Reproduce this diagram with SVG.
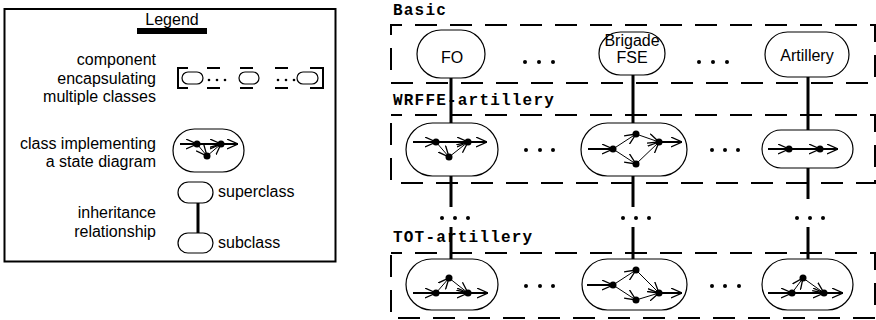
<svg xmlns="http://www.w3.org/2000/svg" width="876" height="320" viewBox="0 0 876 320">
<defs>
<style>
.t{font-family:"Liberation Sans",Arial,sans-serif;font-size:16px;fill:#000}
.m{font-family:"Liberation Mono","Courier New",monospace;font-weight:bold;font-size:16px;letter-spacing:1.2px;fill:#000}
.ov{fill:#fff;stroke:#000;stroke-width:1.2}
.db{fill:none;stroke:#000;stroke-width:2;stroke-dasharray:22 13;stroke-dashoffset:11}
.h{stroke:#000;stroke-width:2;fill:none;marker-end:url(#ah)}
.s{stroke:#000;stroke-width:1;fill:none;marker-end:url(#ah)}
.inh{stroke:#000;stroke-width:3;fill:none}
.d{fill:#000}
</style>
<marker id="ah" viewBox="0 0 10 10" refX="10" refY="5" markerWidth="11" markerHeight="11" markerUnits="userSpaceOnUse" orient="auto">
<path d="M0,0.5 L10,5 L0,9.5" fill="none" stroke="#000" stroke-width="1.2"/>
</marker>
</defs>
<rect width="876" height="320" fill="#fff"/>

<g id="legend">
<rect x="4.5" y="9" width="331" height="252.5" fill="none" stroke="#000" stroke-width="2"/>
<text class="t" x="172" y="25" text-anchor="middle">Legend</text>
<rect x="137" y="28" width="70" height="6" fill="#000"/>
<text class="t" x="156" y="65" text-anchor="end">component</text>
<text class="t" x="156" y="84" text-anchor="end">encapsulating</text>
<text class="t" x="156" y="102" text-anchor="end">multiple classes</text>
<g id="legend-component">
<path d="M188,68 H178 V88 H188 M310,68 H323 V88 H310 M207,68 H220 M240,68 H253 M275,68 H288 M207,88 H220 M240,88 H253 M275,88 H288" fill="none" stroke="#000" stroke-width="2"/>
<rect class="ov" x="182" y="72" width="21" height="12" rx="6"/>
<rect class="ov" x="239" y="72" width="20" height="12" rx="6"/>
<rect class="ov" x="297" y="72" width="21" height="12" rx="6"/>
<circle class="d" cx="209" cy="80" r="1.3"/><circle class="d" cx="217" cy="80" r="1.3"/><circle class="d" cx="225" cy="80" r="1.3"/>
<circle class="d" cx="278" cy="80" r="1.3"/><circle class="d" cx="286" cy="80" r="1.3"/><circle class="d" cx="294" cy="80" r="1.3"/>
</g>
<text class="t" x="156" y="149" text-anchor="end">class implementing</text>
<text class="t" x="156" y="167" text-anchor="end">a state diagram</text>
<g id="legend-class">
<rect class="ov" x="173" y="129" width="71" height="43" rx="21.5"/>
<line class="h" x1="180" y1="144" x2="197" y2="144"/>
<line class="h" x1="197" y1="144" x2="221" y2="144"/>
<line class="h" x1="221" y1="144" x2="238" y2="144"/>
<line class="s" x1="197" y1="144" x2="207" y2="156"/>
<line class="s" x1="207" y1="156" x2="221" y2="144"/>
<circle class="d" cx="197" cy="144" r="3.5"/><circle class="d" cx="221" cy="144" r="3.5"/><circle class="d" cx="207" cy="156" r="3.5"/>
</g>
<g id="legend-inheritance">
<rect class="ov" x="178" y="182" width="35" height="21" rx="10.5"/>
<rect class="ov" x="178" y="233" width="35" height="20" rx="10"/>
<line class="inh" x1="198" y1="203" x2="198" y2="233"/>
</g>
<text class="t" x="218" y="197">superclass</text>
<text class="t" x="218" y="248">subclass</text>
<text class="t" x="156" y="218" text-anchor="end">inheritance</text>
<text class="t" x="156" y="237" text-anchor="end">relationship</text>
</g>

<g id="connectors">
<line class="inh" x1="451" y1="78" x2="451" y2="123"/>
<line class="inh" x1="451" y1="176" x2="451" y2="207"/>
<line class="inh" x1="451" y1="227" x2="451" y2="259"/>
<line class="inh" x1="633" y1="75" x2="633" y2="123"/>
<line class="inh" x1="633" y1="176" x2="633" y2="207"/>
<line class="inh" x1="633" y1="227" x2="633" y2="259"/>
<line class="inh" x1="808" y1="77" x2="808" y2="130"/>
<line class="inh" x1="808" y1="168" x2="808" y2="199"/>
<line class="inh" x1="808" y1="227" x2="808" y2="259"/>
<g class="d">
<circle cx="442" cy="218" r="2"/><circle cx="455" cy="218" r="2"/><circle cx="468" cy="218" r="2"/>
<circle cx="623" cy="218" r="2"/><circle cx="636" cy="218" r="2"/><circle cx="649" cy="218" r="2"/>
<circle cx="797" cy="218" r="2"/><circle cx="810" cy="218" r="2"/><circle cx="823" cy="218" r="2"/>
</g>
</g>

<g id="basic">
<text class="m" x="393" y="15">Basic</text>
<rect class="db" x="391" y="25" width="484" height="58"/>
<g class="d">
<circle cx="525" cy="62" r="2"/><circle cx="539" cy="62" r="2"/><circle cx="553" cy="62" r="2"/>
<circle cx="699" cy="62" r="2"/><circle cx="713" cy="62" r="2"/><circle cx="727" cy="62" r="2"/>
</g>
</g>
<g id="basic-FO">
<rect class="ov" x="417" y="30" width="68" height="48" rx="24"/>
<text class="t" x="452" y="63" text-anchor="middle">FO</text>
</g>
<g id="basic-BrigadeFSE">
<rect class="ov" x="599" y="32" width="66" height="43" rx="21.5"/>
<text class="t" x="632" y="46" text-anchor="middle">Brigade</text>
<text class="t" x="632" y="63" text-anchor="middle">FSE</text>
</g>
<g id="basic-Artillery">
<rect class="ov" x="765" y="32" width="84" height="45" rx="22.5"/>
<text class="t" x="807" y="61" text-anchor="middle">Artillery</text>
</g>

<g id="wrffe">
<text class="m" x="393" y="105">WRFFE-artillery</text>
<rect class="db" x="391" y="115" width="484" height="68"/>
<g class="d">
<circle cx="526" cy="150" r="2"/><circle cx="540" cy="150" r="2"/><circle cx="553" cy="150" r="2"/>
<circle cx="712" cy="150" r="2"/><circle cx="725" cy="150" r="2"/><circle cx="738" cy="150" r="2"/>
</g>
</g>
<g id="wrffe-FO">
<rect class="ov" x="406" y="123" width="92" height="53" rx="26.5"/>
<line class="h" x1="413" y1="142" x2="436" y2="142"/>
<line class="h" x1="436" y1="142" x2="468" y2="142"/>
<line class="h" x1="468" y1="142" x2="487" y2="142"/>
<line class="s" x1="436" y1="142" x2="449" y2="157"/>
<line class="s" x1="449" y1="157" x2="468" y2="142"/>
<circle class="d" cx="436" cy="142" r="3.5"/><circle class="d" cx="468" cy="142" r="3.5"/><circle class="d" cx="449" cy="157" r="3.5"/>
</g>
<g id="wrffe-BrigadeFSE">
<rect class="ov" x="581" y="123" width="106" height="53" rx="26.5"/>
<line class="h" x1="588" y1="149" x2="613" y2="149"/>
<line class="s" x1="613" y1="149" x2="636" y2="134"/>
<line class="s" x1="613" y1="149" x2="636" y2="164"/>
<line class="s" x1="636" y1="134" x2="659" y2="142"/>
<line class="s" x1="636" y1="164" x2="659" y2="142"/>
<line class="h" x1="659" y1="142" x2="682" y2="142"/>
<circle class="d" cx="613" cy="149" r="3.5"/><circle class="d" cx="636" cy="134" r="3.5"/><circle class="d" cx="636" cy="164" r="3.5"/><circle class="d" cx="659" cy="142" r="3.5"/>
</g>
<g id="wrffe-Artillery">
<rect class="ov" x="762" y="130" width="91" height="38" rx="19"/>
<line class="h" x1="768" y1="149" x2="789" y2="149"/>
<line class="h" x1="789" y1="149" x2="820" y2="149"/>
<line class="h" x1="820" y1="149" x2="838" y2="149"/>
<circle class="d" cx="789" cy="149" r="3.5"/><circle class="d" cx="820" cy="149" r="3.5"/>
</g>

<g id="tot">
<text class="m" x="393" y="242">TOT-artillery</text>
<rect class="db" x="391" y="253" width="484" height="65"/>
<g class="d">
<circle cx="526" cy="286" r="2"/><circle cx="540" cy="286" r="2"/><circle cx="553" cy="286" r="2"/>
<circle cx="712" cy="286" r="2"/><circle cx="725" cy="286" r="2"/><circle cx="739" cy="286" r="2"/>
</g>
</g>
<g id="tot-FO">
<rect class="ov" x="406" y="259" width="92" height="51" rx="25.5"/>
<line class="h" x1="413" y1="293" x2="436" y2="293"/>
<line class="h" x1="436" y1="293" x2="468" y2="293"/>
<line class="h" x1="468" y1="293" x2="488" y2="293"/>
<line class="s" x1="436" y1="293" x2="449" y2="278"/>
<line class="s" x1="449" y1="278" x2="468" y2="293"/>
<circle class="d" cx="436" cy="293" r="3.5"/><circle class="d" cx="468" cy="293" r="3.5"/><circle class="d" cx="449" cy="278" r="3.5"/>
</g>
<g id="tot-BrigadeFSE">
<rect class="ov" x="582" y="259" width="105" height="51" rx="25.5"/>
<line class="h" x1="587" y1="285" x2="613" y2="285"/>
<line class="s" x1="613" y1="285" x2="636" y2="270"/>
<line class="s" x1="613" y1="285" x2="636" y2="300"/>
<line class="s" x1="636" y1="270" x2="659" y2="293"/>
<line class="s" x1="636" y1="300" x2="659" y2="293"/>
<line class="h" x1="659" y1="293" x2="682" y2="293"/>
<circle class="d" cx="613" cy="285" r="3.5"/><circle class="d" cx="636" cy="270" r="3.5"/><circle class="d" cx="636" cy="300" r="3.5"/><circle class="d" cx="659" cy="293" r="3.5"/>
</g>
<g id="tot-Artillery">
<rect class="ov" x="762" y="259" width="91" height="51" rx="25.5"/>
<line class="h" x1="768" y1="293" x2="792" y2="293"/>
<line class="h" x1="792" y1="293" x2="824" y2="293"/>
<line class="h" x1="824" y1="293" x2="843" y2="293"/>
<line class="s" x1="792" y1="293" x2="803" y2="278"/>
<line class="s" x1="803" y1="278" x2="824" y2="293"/>
<circle class="d" cx="792" cy="293" r="3.5"/><circle class="d" cx="824" cy="293" r="3.5"/><circle class="d" cx="803" cy="278" r="3.5"/>
</g>
</svg>
